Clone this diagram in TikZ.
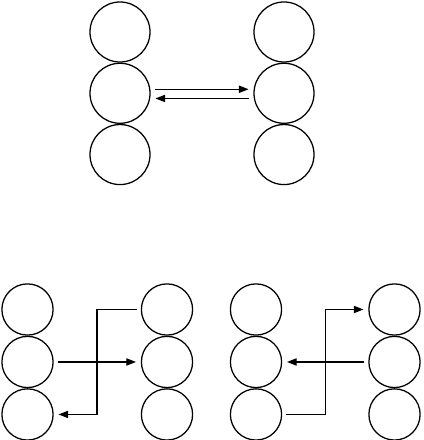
\documentclass[tikz,border=0pt]{standalone}
\usepackage{tikz}
\usetikzlibrary{positioning,arrows.meta,calc}

\begin{document}
\begin{tikzpicture}[
    x=0.025cm,y=0.025cm,
    big/.style={circle,draw,line width=0.9pt,minimum size=1.5cm,inner sep=0pt},
    small/.style={circle,draw,line width=0.9pt,minimum size=1.28cm,inner sep=0pt},
    arrow/.style={-{Triangle[length=2.4mm,width=1.8mm]},line width=0.9pt,shorten <=0.1cm,shorten >=0.12cm}
    ]

    \useasboundingbox (0,0) rectangle (423,440);

    % top pair
    \node[big] (topl1) at (120,408) {};
    \node[big,below=0pt of topl1] (topl2) {};
    \node[big,below=0pt of topl2] (topl3) {};

    \node[big] (topr1) at (284,408) {};
    \node[big,below=0pt of topr1] (topr2) {};
    \node[big,below=0pt of topr2] (topr3) {};

    \draw[arrow] ([yshift=0.1cm]topl2.east)--([yshift=0.1cm]topr2.west);
    \draw[arrow] ([yshift=-0.13cm]topr2.west)--([yshift=-0.13cm]topl2.east);

    % bottom left pair
    \node[small] (lefta1) at (27.5,130.5) {};
    \node[small,below=0pt of lefta1] (lefta2) {};
    \node[small,below=0pt of lefta2] (lefta3) {};

    \node[small] (righta1) at (167,130.5) {};
    \node[small,below=0pt of righta1] (righta2) {};
    \node[small,below=0pt of righta2] (righta3) {};

    \coordinate (kinka) at (97,0);
    \draw[arrow] (lefta2.east)--(righta2.west);
    \draw[arrow] (righta1.west) -| (kinka |- lefta3.east) -- (lefta3.east);

    % bottom right pair
    \node[small] (leftb1) at (256,130.5) {};
    \node[small,below=0pt of leftb1] (leftb2) {};
    \node[small,below=0pt of leftb2] (leftb3) {};

    \node[small] (rightb1) at (394.5,130.5) {};
    \node[small,below=0pt of rightb1] (rightb2) {};
    \node[small,below=0pt of rightb2] (rightb3) {};

    \coordinate (kinkb) at (325.7,0);
    \draw[arrow] (rightb2.west)--(leftb2.east);
    \draw[arrow] (leftb3.east) -| (kinkb |- rightb1.west) -- (rightb1.west);

  \end{tikzpicture}
\end{document}
